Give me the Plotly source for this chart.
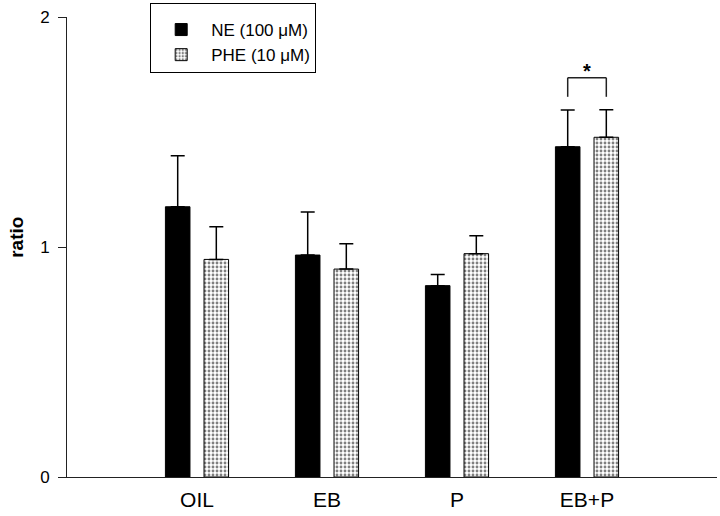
import plotly.graph_objects as go

categories = ["OIL", "EB", "P", "EB+P"]
ne_values = [1.175, 0.965, 0.832, 1.436]
ne_errors = [0.222, 0.187, 0.048, 0.160]
phe_values = [0.946, 0.904, 0.971, 1.477]
phe_errors = [0.142, 0.110, 0.078, 0.120]
y_ticks = [0, 1, 2]
sig_bracket_top = 1.736
sig_bracket_bottom = 1.653
sig_star_y = 1.775

FONT = "Liberation Sans, Arial, sans-serif"
bargap = 0.406
bargroupgap = 0.364
half_offset = (1 - bargap) / 4

fig = go.Figure()
fig.add_trace(go.Bar(
    x=categories, y=ne_values, name="NE (100 \u03bcM)",
    marker=dict(color="black", line=dict(color="black", width=1)),
    error_y=dict(type="data", array=ne_errors, arrayminus=[0]*4, symmetric=False,
                 color="black", thickness=1.5, width=7),
))
fig.add_trace(go.Bar(
    x=categories, y=phe_values, name="PHE (10 \u03bcM)",
    marker=dict(color="white", line=dict(color="black", width=1),
                pattern=dict(shape=".", size=4, solidity=0.4,
                             fgcolor="black", bgcolor="white", fillmode="overlay")),
    error_y=dict(type="data", array=phe_errors, arrayminus=[0]*4, symmetric=False,
                 color="black", thickness=1.5, width=7),
))

# significance bracket over EB+P
idx = categories.index("EB+P")
x0 = idx - half_offset
x1 = idx + half_offset
for xs, ys in [((x0, x0), (sig_bracket_bottom, sig_bracket_top)),
               ((x0, x1), (sig_bracket_top, sig_bracket_top)),
               ((x1, x1), (sig_bracket_top, sig_bracket_bottom))]:
    fig.add_shape(type="line", xref="x", yref="y", x0=xs[0], x1=xs[1], y0=ys[0], y1=ys[1],
                  line=dict(color="#222", width=1.5))
fig.add_annotation(x=idx, y=sig_star_y, xref="x", yref="y", text="<b>*</b>", showarrow=False,
                   font=dict(family=FONT, size=20, color="black"), yanchor="bottom", yshift=-15)

fig.add_annotation(x=-0.077, y=0.522, xref="paper", yref="paper", text="<b>ratio</b>",
                   textangle=-90, showarrow=False, xanchor="center", yanchor="middle",
                   font=dict(family=FONT, size=19, color="black"))

fig.update_layout(
    width=720, height=516,
    margin=dict(l=67, r=3, t=17, b=39, autoexpand=False),
    paper_bgcolor="white", plot_bgcolor="white",
    barmode="group", bargap=bargap, bargroupgap=bargroupgap,
    font=dict(family=FONT, color="black"),
    showlegend=True,
    legend=dict(x=0.128, y=1.030, xanchor="left", yanchor="top",
                bordercolor="black", borderwidth=1, bgcolor="white",
                font=dict(family=FONT, size=17, color="black"),
                title=dict(text=" ", font=dict(size=6)),
                itemwidth=50),
    xaxis=dict(range=[-1.0, 4.0], showline=True, linecolor="#222", linewidth=1,
               ticks="", showgrid=False, zeroline=False, automargin=False,
               tickfont=dict(family=FONT, size=21, color="black"),
               ticklabelstandoff=4),
    yaxis=dict(range=[0, 2], tickvals=y_ticks, showline=True, linecolor="#222", linewidth=1,
               ticks="outside", ticklen=8, tickcolor="#222", showgrid=False, zeroline=False,
               automargin=False, ticklabeloverflow="allow",
               tickfont=dict(family=FONT, size=17, color="black"),
               ticklabelstandoff=5),
)

# remove the default 8px page margin so the figure sits at the window's top-left corner
fig.write_html("out.html", config={"displayModeBar": False},
               post_script="document.body.style.margin='0';")
